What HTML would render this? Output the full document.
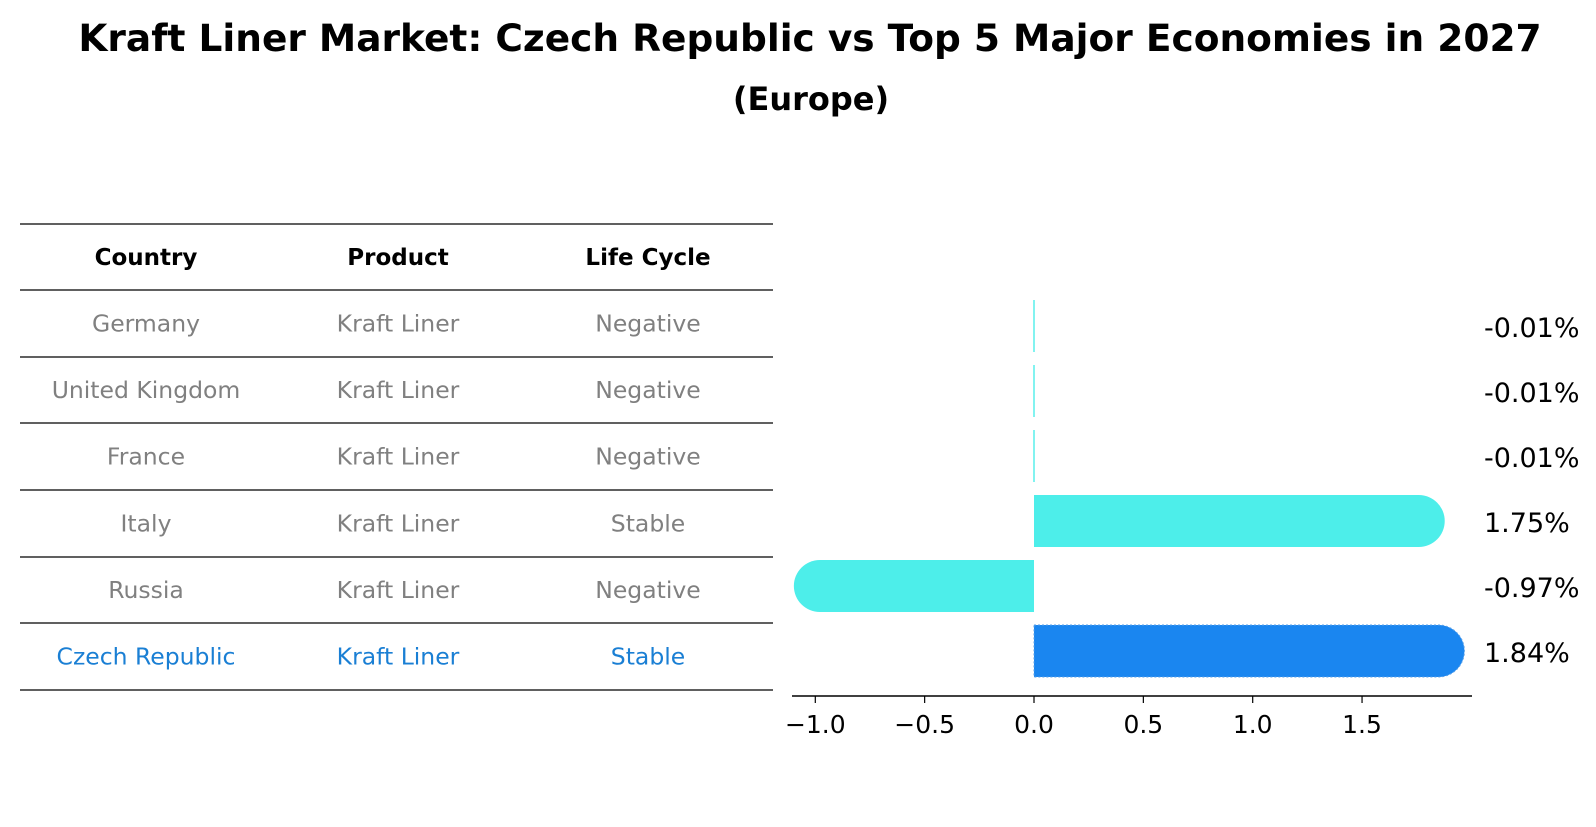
<!DOCTYPE html>
<html><head><meta charset="utf-8"><style>
body{margin:0;background:#fff;font-family:"DejaVu Sans","Liberation Sans",sans-serif}
</style></head><body>
<svg width="1596" height="823" xmlns="http://www.w3.org/2000/svg" font-family="DejaVu Sans, Liberation Sans, sans-serif">
<text x="810" y="51" text-anchor="middle" font-size="37.5" font-weight="bold">Kraft Liner Market: Czech Republic vs Top 5 Major Economies in 2027</text>
<text x="811" y="110" text-anchor="middle" font-size="32" font-weight="bold">(Europe)</text>
<g id="table"></g>
<g id="bars"></g>
</svg>
<script>
const countries=["Germany","United Kingdom","France","Italy","Russia","Czech Republic"];
const products=["Kraft Liner","Kraft Liner","Kraft Liner","Kraft Liner","Kraft Liner","Kraft Liner"];
const lifecycle=["Negative","Negative","Negative","Stable","Negative","Stable"];
const values=[-0.01,-0.01,-0.01,1.75,-0.97,1.84];
const valueLabels=["-0.01%","-0.01%","-0.01%","1.75%","-0.97%","1.84%"];
const ticks=[-1.0,-0.5,0.0,0.5,1.0,1.5];
const tickLabels=["\u22121.0","\u22120.5","0.0","0.5","1.0","1.5"];
const NS="http://www.w3.org/2000/svg";
function mk(t,a,p,txt){const e=document.createElementNS(NS,t);for(const k in a)e.setAttribute(k,a[k]);if(txt!==undefined)e.textContent=txt;p.appendChild(e);return e;}
const tb=document.getElementById('table');
const lines=[224,290,357,423,490,557,623,690];
lines.forEach((y,i)=>{const l=mk('line',{x1:20,x2:773,y1:y,y2:y,stroke:'#000','stroke-width':1.2},tb);

});
const cx=[146,398,648];
["Country","Product","Life Cycle"].forEach((h,i)=>{const t=mk('text',{x:cx[i],y:(lines[0]+lines[1])/2+8,'text-anchor':'middle','font-size':23,'font-weight':'bold'},tb,h);

});
countries.forEach((c,r)=>{const y=(lines[r+1]+lines[r+2])/2+8;const col=r===countries.length-1?'#1a7fd4':'#808080';
[c,products[r],lifecycle[r]].forEach((v,i)=>{const t=mk('text',{x:cx[i],y:y,'text-anchor':'middle','font-size':23.5,fill:col},tb,v);

});});
const bg=document.getElementById('bars');
const x0=1034,unit=218.7;
const X=v=>x0+v*unit;
const rowY=[326,391,456,521,586,651];
const bh=52,cap=28;
values.forEach((v,i)=>{const y=rowY[i]-bh/2;const last=i===values.length-1;const col=last?'#1a86f0':'#4deeea';
const xe=X(v);let d;
if(Math.abs(v)<0.05){d=`M${x0-0.7},${y}h1.4v${bh}h-1.4z`;}
else if(v>0){const e=xe+cap-bh/2;d=`M${x0},${y}H${e}A${bh/2},${bh/2} 0 0 1 ${e},${y+bh}H${x0}Z`;}
else{const e=xe-cap+bh/2;d=`M${x0},${y}H${e}A${bh/2},${bh/2} 0 0 0 ${e},${y+bh}H${x0}Z`;}
const p=mk('path',{d:d,fill:col},bg);
if(last){p.setAttribute('stroke','#5aa0e8');p.setAttribute('stroke-dasharray','2,2');}


const t=mk('text',{x:1484,y:rowY[i]+11,'font-size':27},bg,valueLabels[i]);

});
const ax=mk('line',{x1:792,x2:1472,y1:696,y2:696,stroke:'#000','stroke-width':1.5},bg);


ticks.forEach((v,i)=>{const tl=mk('line',{x1:X(v),x2:X(v),y1:696,y2:703,stroke:'#000','stroke-width':1.2},bg);


const t=mk('text',{x:X(v),y:733,'text-anchor':'middle','font-size':25},bg,tickLabels[i]);

});
</script>
</body></html>
